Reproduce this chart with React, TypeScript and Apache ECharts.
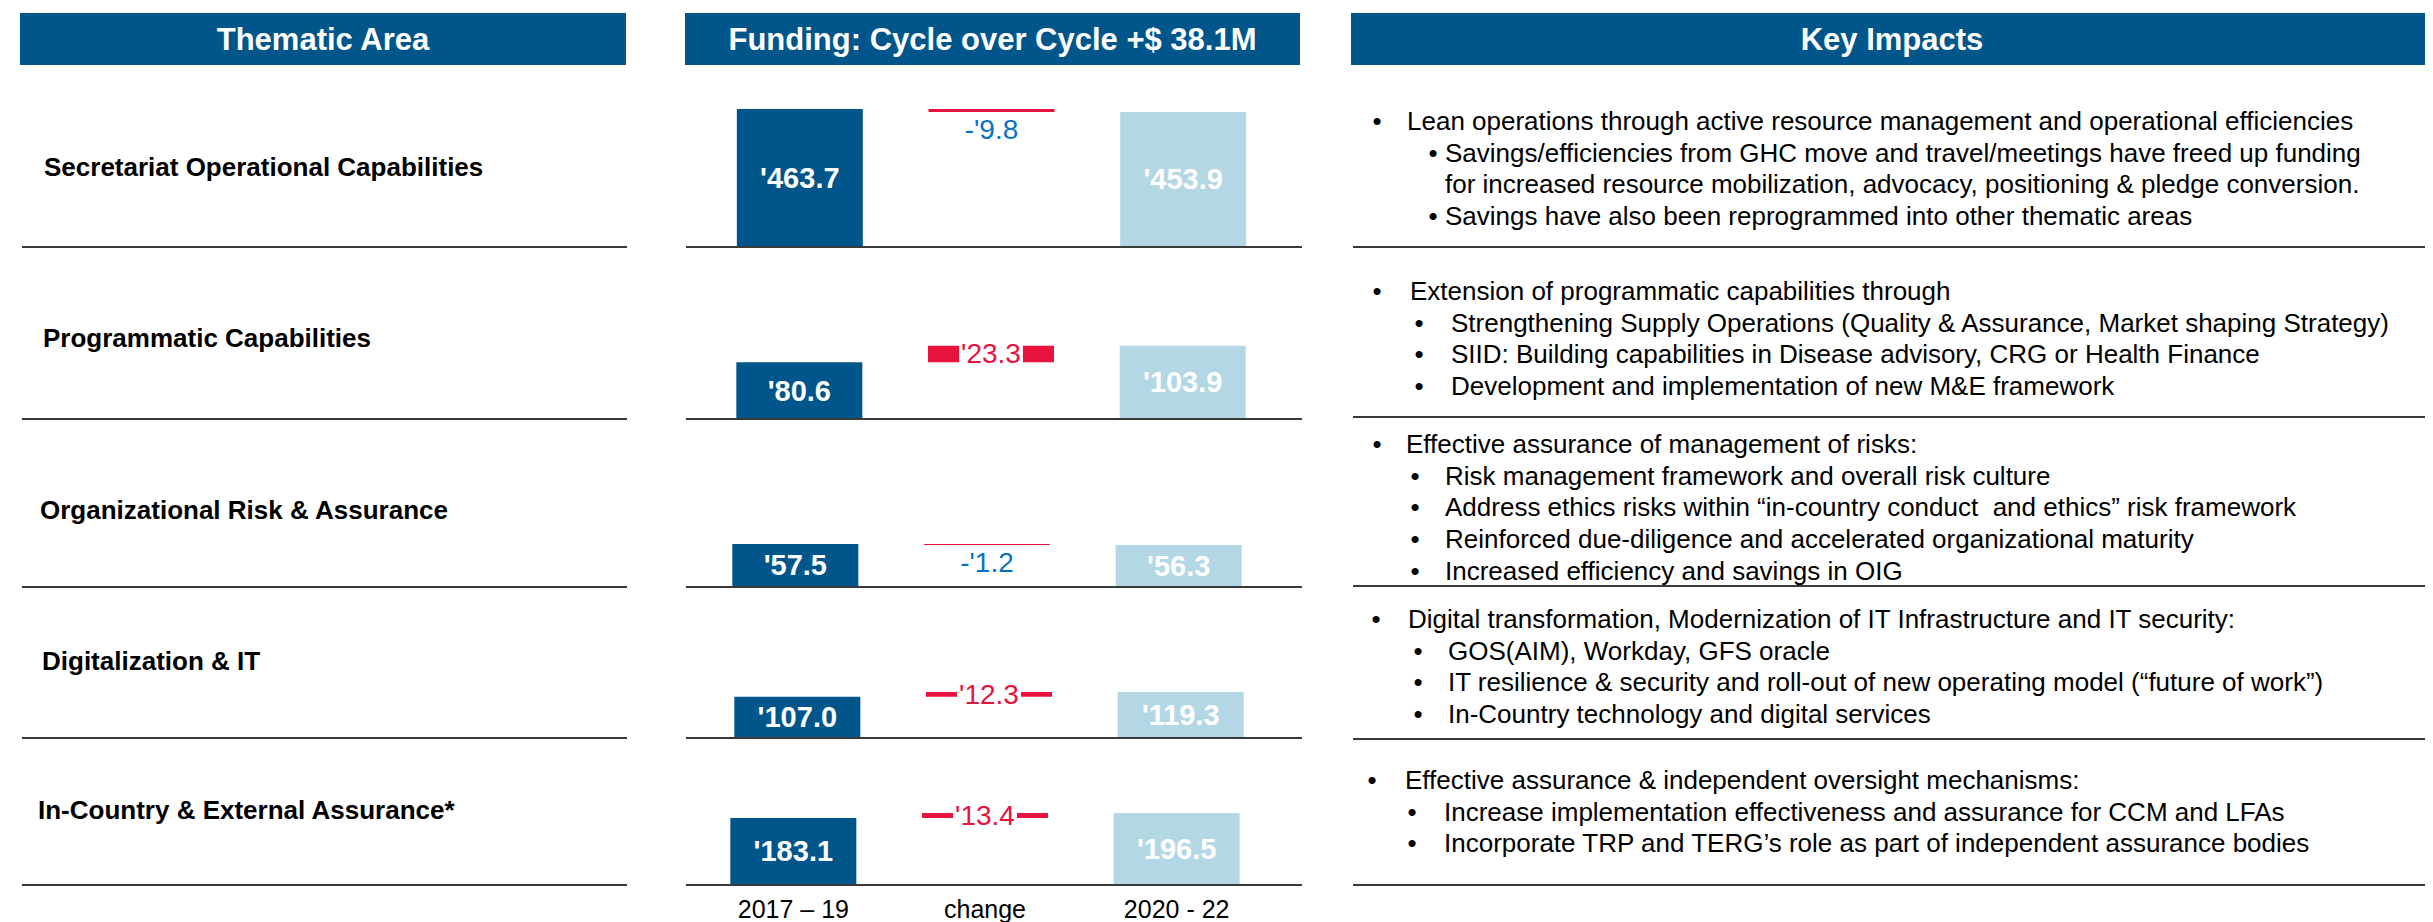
import React, { useEffect, useRef } from "react";
import * as echarts from "echarts";

// ---------- data ----------
const headerTitles = ["Thematic Area", "Funding: Cycle over Cycle +$ 38.1M", "Key Impacts"];
const thematicAreas = [
  "Secretariat Operational Capabilities",
  "Programmatic Capabilities",
  "Organizational Risk & Assurance",
  "Digitalization & IT",
  "In-Country & External Assurance*",
];
const periodLabels = ["2017 – 19", "change", "2020 - 22"];
const funding2017 = [463.7, 80.6, 57.5, 107.0, 183.1];
const funding2020 = [453.9, 103.9, 56.3, 119.3, 196.5];
const fundingChange = [-9.8, 23.3, -1.2, 12.3, 13.4];

// level 0 = main bullet, 1 = sub bullet, 2 = continuation line
const keyImpacts: [number, string][][] = [
  [
    [0, "Lean operations through active resource management and operational efficiencies"],
    [1, "Savings/efficiencies from GHC move and travel/meetings have freed up funding"],
    [2, "for increased resource mobilization, advocacy, positioning & pledge conversion."],
    [1, "Savings have also been reprogrammed into other thematic areas"],
  ],
  [
    [0, "Extension of programmatic capabilities through"],
    [1, "Strengthening Supply Operations (Quality & Assurance, Market shaping Strategy)"],
    [1, "SIID: Building capabilities in Disease advisory, CRG or Health Finance"],
    [1, "Development and implementation of new M&E framework"],
  ],
  [
    [0, "Effective assurance of management of risks:"],
    [1, "Risk management framework and overall risk culture"],
    [1, "Address ethics risks within \u201Cin-country conduct  and ethics\u201D risk framework"],
    [1, "Reinforced due-diligence and accelerated organizational maturity"],
    [1, "Increased efficiency and savings in OIG"],
  ],
  [
    [0, "Digital transformation, Modernization of IT Infrastructure and IT security:"],
    [1, "GOS(AIM), Workday, GFS oracle"],
    [1, "IT resilience & security and roll-out of new operating model (\u201Cfuture of work\u201D)"],
    [1, "In-Country technology and digital services"],
  ],
  [
    [0, "Effective assurance & independent oversight mechanisms:"],
    [1, "Increase implementation effectiveness and assurance for CCM and LFAs"],
    [1, "Incorporate TRP and TERG\u2019s role as part of independent assurance bodies"],
  ],
];

// per-row value axis maximum (each row has its own scale)
const rowAxisMax = [600, 200, 200, 350, 350];

// ---------- layout / style ----------
const W = 2433;
const H = 922;
const FONT = '"Liberation Sans", Arial, Helvetica, sans-serif';
const DARK = "#00568a";
const LIGHT = "#b4d7e6";
const RED = "#e8123e";
const BLUE = "#0a72c6";
const HEADER = "#00568a";

const rowBaseline = [239, 411, 579, 730, 877];
const rowPxPerUnit = [0.2976, 0.705, 0.748, 0.385, 0.366];
const rowGridLeft = [696, 695.5, 691.5, 693.5, 689.5];
const gridWidth = 575;
const labelY = [159, 330, 502, 653, 802];
const labelX = [36, 35, 32, 34, 30];
const rightSepY = [239, 409, 578, 731, 877];
const impactStartY = [113, 283, 436, 611, 772];
const impactGap = 31.7;
const impactX = [
  [1369, 1399, 1425, 1437],
  [1369, 1402, 1411, 1443],
  [1369, 1398, 1407, 1437],
  [1368, 1400, 1410, 1440],
  [1364, 1397, 1404, 1436],
];

function fmt(v: number) {
  return (v < 0 ? "-" : "") + "'" + Math.abs(v).toFixed(1);
}

function buildOption() {
  const grids: any[] = [];
  const xAxes: any[] = [];
  const yAxes: any[] = [];
  const series: any[] = [];
  const graphic: any[] = [];

  // headers
  const headerBoxes = [
    [12, 618],
    [677, 1292],
    [1343, 2425],
  ];
  headerBoxes.forEach(([x0, x1], k) => {
    graphic.push({
      type: "rect",
      shape: { x: x0, y: 5, width: x1 - x0, height: 52 },
      style: { fill: HEADER },
      z: 50,
    });
    graphic.push({
      type: "text",
      x: (x0 + x1) / 2,
      y: 31,
      z: 51,
      style: {
        text: headerTitles[k],
        fill: "#ffffff",
        font: `bold 31px ${FONT}`,
        textAlign: "center",
        textVerticalAlign: "middle",
        align: "center",
        verticalAlign: "middle",
      },
    });
  });

  for (let i = 0; i < thematicAreas.length; i++) {
    const h = rowAxisMax[i] * rowPxPerUnit[i];
    grids.push({
      left: rowGridLeft[i],
      width: gridWidth,
      top: rowBaseline[i] - h,
      height: h,
      containLabel: false,
    });
    xAxes.push({
      type: "category",
      gridIndex: i,
      data: periodLabels,
      axisLine: { show: false },
      axisTick: { show: false },
      axisLabel: {
        show: i === thematicAreas.length - 1,
        fontSize: 25,
        color: "#000",
        fontFamily: FONT,
        margin: 11,
      },
      splitLine: { show: false },
    });
    yAxes.push({
      type: "value",
      gridIndex: i,
      min: 0,
      max: rowAxisMax[i],
      show: false,
      splitLine: { show: false },
    });

    const v1 = funding2017[i];
    const v2 = funding2020[i];
    const d = fundingChange[i];
    series.push({
      type: "bar",
      name: "cycle" + i,
      xAxisIndex: i,
      yAxisIndex: i,
      stack: "wf" + i,
      barWidth: 126,
      data: [
        { value: v1, itemStyle: { color: DARK } },
        { value: Math.min(v1, v2), itemStyle: { color: "transparent" }, label: { show: false } },
        { value: v2, itemStyle: { color: LIGHT } },
      ],
      label: {
        show: true,
        position: "inside",
        color: "#ffffff",
        fontWeight: "bold",
        fontSize: 29,
        fontFamily: FONT,
        formatter: (p: any) => fmt(p.value),
      },
      emphasis: { disabled: true },
      z: 2,
    });
    series.push({
      type: "bar",
      name: "change" + i,
      xAxisIndex: i,
      yAxisIndex: i,
      stack: "wf" + i,
      barWidth: 126,
      data: ["-", Math.abs(d), "-"],
      itemStyle: { color: RED },
      label:
        d > 0
          ? {
              show: true,
              position: "inside",
              color: RED,
              backgroundColor: "#ffffff",
              padding: [3, 2, 1, 2],
              fontSize: 28,
              fontFamily: FONT,
              formatter: () => fmt(d),
            }
          : {
              show: true,
              position: "bottom",
              distance: 4,
              color: BLUE,
              fontSize: 28,
              fontFamily: FONT,
              formatter: () => fmt(d),
            },
      emphasis: { disabled: true },
      z: 3,
    });

    // left labels
    graphic.push({
      type: "text",
      x: labelX[i],
      y: labelY[i],
      z: 60,
      style: {
        text: thematicAreas[i],
        fill: "#000",
        font: `bold 26px ${FONT}`,
        textAlign: "left",
        textVerticalAlign: "middle",
        align: "left",
        verticalAlign: "middle",
      },
    });

    // separators
    const sepStyle = { stroke: "#3a3a3a", lineWidth: 2 };
    graphic.push({ type: "line", z: 100, shape: { x1: 14, y1: rowBaseline[i], x2: 619, y2: rowBaseline[i] }, style: sepStyle });
    graphic.push({ type: "line", z: 100, shape: { x1: 678, y1: rowBaseline[i], x2: 1294, y2: rowBaseline[i] }, style: sepStyle });
    graphic.push({ type: "line", z: 100, shape: { x1: 1345, y1: rightSepY[i], x2: 2425, y2: rightSepY[i] }, style: sepStyle });

    // key impacts
    keyImpacts[i].forEach(([lvl, txt], j) => {
      const y = impactStartY[i] + j * impactGap;
      const [b0, t0, b1, t1] = impactX[i];
      if (lvl < 2) {
        graphic.push({
          type: "text",
          x: lvl === 0 ? b0 : b1,
          y,
          z: 60,
          style: {
            text: "\u2022",
            fill: "#000",
            font: `26px ${FONT}`,
            textAlign: "center",
            textVerticalAlign: "middle",
            align: "center",
            verticalAlign: "middle",
          },
        });
      }
      graphic.push({
        type: "text",
        x: lvl === 0 ? t0 : t1,
        y,
        z: 60,
        style: {
          text: txt,
          fill: "#000",
          font: `26px ${FONT}`,
          textAlign: "left",
          textVerticalAlign: "middle",
          align: "left",
          verticalAlign: "middle",
        },
      });
    });
  }

  return {
    animation: false,
    backgroundColor: "#ffffff",
    textStyle: { fontFamily: FONT },
    tooltip: { show: false },
    grid: grids,
    xAxis: xAxes,
    yAxis: yAxes,
    series,
    graphic: { elements: graphic },
  };
}

export default function App() {
  const ref = useRef<HTMLDivElement>(null);
  useEffect(() => {
    if (!ref.current) return;
    const chart = echarts.init(ref.current, undefined, { renderer: "svg", width: W, height: H });
    chart.setOption(buildOption());
    return () => chart.dispose();
  }, []);
  return (
    <div
      ref={ref}
      style={{ position: "fixed", left: 0, top: 0, width: W, height: H, background: "#fff" }}
    />
  );
}
